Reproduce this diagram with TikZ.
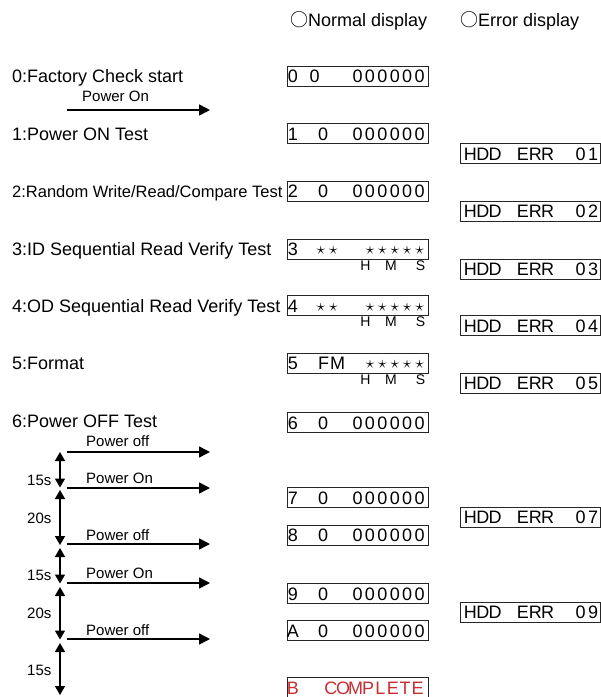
\documentclass[tikz,border=0pt]{standalone}
\usepackage{fontspec}
\setmainfont{Liberation Sans}
\newfontfamily\cjkfont{Noto Sans CJK SC}
\usetikzlibrary{arrows.meta}
\definecolor{redtxt}{RGB}{200,45,50}
\newcommand\cellw{12.4pt}
\def\celllist#1{\ifx#1\relax\else\makebox[\cellw][c]{#1}\expandafter\celllist\fi}
\newcommand\cells[1]{\celllist#1\relax}
\newcommand\stt{\raisebox{1pt}{\fontsize{19}{19}\selectfont$\star$}}
\tikzset{
  nbox/.style={draw=black!85, line width=1pt, minimum width=141pt, minimum height=20pt, inner sep=0pt, anchor=north west},
  ebox/.style={draw=black!85, line width=1pt, minimum width=140.5pt, minimum height=20pt, inner sep=0pt, anchor=north west},
  btxt/.style={anchor=base west, inner sep=0pt, font=\fontsize{18}{18}\selectfont},
  btxr/.style={anchor=base east, inner sep=0pt, font=\fontsize{18}{18}\selectfont},
  hms/.style={anchor=base, inner sep=0pt, font=\fontsize{14}{15}\selectfont},
  lbl/.style={anchor=base west, inner sep=0pt, font=\fontsize{18}{20}\selectfont},
  head/.style={anchor=base west, inner sep=0pt, font=\fontsize{18}{20}\selectfont},
  small/.style={anchor=base west, inner sep=0pt, font=\fontsize{15}{17}\selectfont},
  arr/.style={line width=1.5pt, -{Triangle[length=11pt,width=11pt]}},
  varr/.style={line width=1.5pt, {Triangle[length=9pt,width=10pt]}-{Triangle[length=9pt,width=10pt]}}
}
\begin{document}
\begin{tikzpicture}[x=1pt,y=-1pt]
\useasboundingbox (0,0) rectangle (601,697);
% headers
\node[head] (hnorm) at (290,26) {{\cjkfont ○}Normal display};
\node[head] (herr) at (460,26) {{\cjkfont ○}Error display};
% labels
\node[lbl] (l0) at (12,82.5) {0:Factory Check start};
\node[lbl] (l1) at (12,140) {1:Power ON Test};
\node[lbl, font=\fontsize{16.5}{18}\selectfont] (l2) at (12,197.5) {2:Random Write/Read/Compare Test};
\node[lbl] (l3) at (12,255) {3:ID Sequential Read Verify Test};
\node[lbl] (l4) at (12,312.5) {4:OD Sequential Read Verify Test};
\node[lbl] (l5) at (12,369) {5:Format};
\node[lbl] (l6) at (12,427) {6:Power OFF Test};
% normal boxes
\node[nbox] (b0) at (286.5,65.5) {};
\node[btxt] (b0a) at (286.5,82.5) {\cells{0}};
\node[btxt] (b0b) at (308.3,82.5) {\cells{0}};
\node[btxr] (b0c) at (426,82.5) {\cells{000000}};
\node[nbox] (b1) at (286.5,123) {};
\node[btxt] (b1a) at (286.5,140) {\cells{1}};
\node[btxt] (b1b) at (316.8,140) {\cells{0}};
\node[btxr] (b1c) at (426,140) {\cells{000000}};
\node[nbox] (b2) at (286.5,180.5) {};
\node[btxt] (b2a) at (286.5,197.5) {\cells{2}};
\node[btxt] (b2b) at (316.8,197.5) {\cells{0}};
\node[btxr] (b2c) at (426,197.5) {\cells{000000}};
\node[nbox] (b3) at (286.5,238.5) {};
\node[btxt] (b3a) at (286.5,255.5) {\cells{3}};
\node[btxt] (b3b) at (314.5,255.5) {\cells{\stt\stt}};
\node[btxr] (b3c) at (426,255.5) {\cells{\stt\stt\stt\stt\stt}};
\node[hms] (h3) at (365.5,270) {H};
\node[hms] (m3) at (391,270) {M};
\node[hms] (s3) at (420.5,270) {S};
\node[nbox] (b4) at (286.5,295) {};
\node[btxt] (b4a) at (286.5,312) {\cells{4}};
\node[btxt] (b4b) at (314.5,312) {\cells{\stt\stt}};
\node[btxr] (b4c) at (426,312) {\cells{\stt\stt\stt\stt\stt}};
\node[hms] (h4) at (365.5,326.5) {H};
\node[hms] (m4) at (391,326.5) {M};
\node[hms] (s4) at (420.5,326.5) {S};
\node[nbox] (b5) at (286.5,352.5) {};
\node[btxt] (b5a) at (286.5,369.5) {\cells{5}};
\node[btxt] (b5b) at (316.5,369.5) {\makebox[14pt]{F}\makebox[14pt]{M}};
\node[btxr] (b5c) at (426,369.5) {\cells{\stt\stt\stt\stt\stt}};
\node[hms] (h5) at (365.5,384) {H};
\node[hms] (m5) at (391,384) {M};
\node[hms] (s5) at (420.5,384) {S};
\node[nbox] (b6) at (286.5,412) {};
\node[btxt] (b6a) at (286.5,429) {\cells{6}};
\node[btxt] (b6b) at (316.8,429) {\cells{0}};
\node[btxr] (b6c) at (426,429) {\cells{000000}};
\node[nbox] (b7) at (286.5,487) {};
\node[btxt] (b7a) at (286.5,504) {\cells{7}};
\node[btxt] (b7b) at (316.8,504) {\cells{0}};
\node[btxr] (b7c) at (426,504) {\cells{000000}};
\node[nbox] (b8) at (286.5,524.5) {};
\node[btxt] (b8a) at (286.5,541.5) {\cells{8}};
\node[btxt] (b8b) at (316.8,541.5) {\cells{0}};
\node[btxr] (b8c) at (426,541.5) {\cells{000000}};
\node[nbox] (b9) at (286.5,583) {};
\node[btxt] (b9a) at (286.5,600) {\cells{9}};
\node[btxt] (b9b) at (316.8,600) {\cells{0}};
\node[btxr] (b9c) at (426,600) {\cells{000000}};
\node[nbox] (bA) at (286.5,620) {};
\node[btxt] (bAa) at (286.5,637) {\cells{A}};
\node[btxt] (bAb) at (316.8,637) {\cells{0}};
\node[btxr] (bAc) at (426,637) {\cells{000000}};
\node[nbox] (bB) at (286.5,677) {};
\node[btxt, text=redtxt] (bBa) at (286.5,694) {\cells{B}};
\node[btxr, text=redtxt] (bBc) at (424,694) {\cells{COMPLETE}};
% error boxes
\foreach \nm/\tp in {01/143, 02/200.5, 03/258.5, 04/315, 05/372.5, 07/506.5, 09/601.5}{
  \node[ebox] (e\nm) at (459.5,\tp) {};
  \node[btxt] (e\nm a) at (464,\tp+17) {\cells{HDD}};
  \node[btxt] (e\nm b) at (516.5,\tp+17) {\cells{ERR}};
  \node[btxr] (e\nm c) at (599.5,\tp+17) {\expandafter\cells\expandafter{\nm}};
}
% power arrows
\node[small] (p0) at (82,101.7) {Power On};
\coordinate (p0s) at (67,110); \coordinate (p0e) at (210,110);
\draw[arr] (p0s) -- (p0e);
\node[small] (p1) at (86,446) {Power off};
\coordinate (p1s) at (67,452); \coordinate (p1e) at (210,452);
\draw[arr] (p1s) -- (p1e);
\node[small] (p2) at (86,483) {Power On};
\coordinate (p2s) at (67,488); \coordinate (p2e) at (210,488);
\draw[arr] (p2s) -- (p2e);
\node[small] (p3) at (86,540) {Power off};
\coordinate (p3s) at (67,544); \coordinate (p3e) at (210,544);
\draw[arr] (p3s) -- (p3e);
\node[small] (p4) at (86,578) {Power On};
\coordinate (p4s) at (67,583); \coordinate (p4e) at (210,583);
\draw[arr] (p4s) -- (p4e);
\node[small] (p5) at (86,635) {Power off};
\coordinate (p5s) at (67,639); \coordinate (p5e) at (210,639);
\draw[arr] (p5s) -- (p5e);
% timing arrows
\coordinate (v1s) at (60,452); \coordinate (v1e) at (60,487.5);
\draw[varr] (v1s) -- (v1e);
\node[small] (t1) at (27,485) {15s};
\coordinate (v2s) at (60,490); \coordinate (v2e) at (60,545);
\draw[varr] (v2s) -- (v2e);
\node[small] (t2) at (27,523) {20s};
\coordinate (v3s) at (60,548); \coordinate (v3e) at (60,583.5);
\draw[varr] (v3s) -- (v3e);
\node[small] (t3) at (27,580) {15s};
\coordinate (v4s) at (60,587); \coordinate (v4e) at (60,639.5);
\draw[varr] (v4s) -- (v4e);
\node[small] (t4) at (27,618) {20s};
\coordinate (v5s) at (60,643); \coordinate (v5e) at (60,695);
\draw[varr] (v5s) -- (v5e);
\node[small] (t5) at (27,675) {15s};
\end{tikzpicture}
\end{document}
